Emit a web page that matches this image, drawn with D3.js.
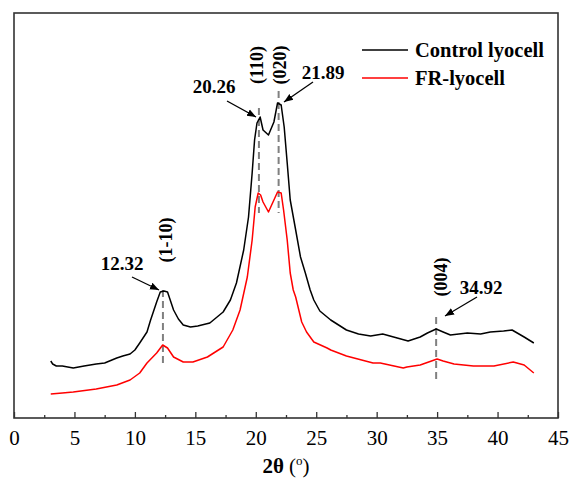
<!DOCTYPE html>
<html>
<head>
<meta charset="utf-8">
<script src="https://cdn.jsdelivr.net/npm/d3@7"></script>
<style>
  body { margin: 0; background: #fff; }
  text { font-family: "Liberation Serif", "Times New Roman", serif; }
</style>
</head>
<body>
<svg id="chart" width="572" height="483"></svg>
<script>
// 2theta positions (deg) and intensity (a.u.)
var ctrlTheta = [3.04, 3.2, 3.5, 4.0, 4.9, 5.8, 6.8, 7.5, 8.5, 9.0, 9.6, 10.0, 10.4, 11.0, 11.3, 11.8, 12.1, 12.4, 12.7, 13.2, 13.6, 14.0, 14.6, 15.2, 16.2, 17.3, 17.9, 18.4, 19.0, 19.4, 19.7, 19.9, 20.1, 20.36, 20.6, 21.05, 21.5, 21.8, 22.1, 22.35, 22.6, 22.85, 23.3, 23.7, 24.1, 24.5, 24.8, 25.3, 26.2, 27.5, 28.5, 29.5, 30.5, 31.7, 32.6, 33.6, 34.2, 34.92, 35.5, 36.1, 37.5, 38.6, 39.4, 40.5, 41.2, 42.2, 43.0];
var ctrlInt = [57, 54, 52, 52, 50, 52, 54, 55, 60, 62, 64, 68, 75, 86, 98, 116, 126, 127, 126, 108, 99, 93, 91, 92, 95, 106, 118, 135, 168, 201, 245, 278, 295, 301, 288, 283, 296, 315, 313, 291, 255, 218, 188, 161, 145, 128, 118, 107, 98, 88, 84, 82, 84, 80, 77, 81, 85, 89, 86, 83, 85, 84, 86, 87, 88, 81, 75];

var frTheta = [3.04, 4.0, 4.9, 6.8, 8.5, 9.6, 10.4, 11.0, 11.8, 12.3, 12.7, 13.2, 14.0, 14.8, 16.0, 17.3, 18.1, 18.7, 19.3, 19.7, 19.95, 20.2, 20.4, 20.6, 21.05, 21.5, 21.8, 22.1, 22.3, 22.6, 22.85, 23.1, 23.3, 23.8, 24.2, 24.8, 25.9, 26.2, 27.5, 29.7, 30.3, 32.2, 32.5, 33.6, 34.3, 35.0, 35.5, 36.4, 38.0, 39.7, 41.3, 42.2, 43.0];
var frInt = [24, 25, 26, 29, 33, 38, 45, 55, 65, 73, 70, 61, 56, 56, 61, 71, 88, 108, 141, 178, 211, 225, 223, 216, 206, 218, 226, 225, 208, 178, 145, 128, 121, 96, 86, 76, 70, 68, 62, 55, 55, 50, 51, 53, 56, 59, 57, 54, 52, 52, 56, 53, 45];

var seriesNames = ["Control lyocell", "FR-lyocell"];
var seriesColors = ["#000000", "#ff0000"];

// peak annotations
var peakPos = [12.32, 20.26, 21.89, 34.92];
var peakLabels = ["12.32", "20.26", "21.89", "34.92"];
var planeLabels = ["(1-10)", "(110)", "(020)", "(004)"];

var xTicks = [0, 5, 10, 15, 20, 25, 30, 35, 40, 45];
var xMinorTicks = [2.5, 7.5, 12.5, 17.5, 22.5, 27.5, 32.5, 37.5, 42.5];

var svg = d3.select("#chart");
var pLeft = 14, pRight = 558, pTop = 13, pBottom = 418;

var x = d3.scaleLinear().domain([0, 45]).range([pLeft, pRight]);
var y = d3.scaleLinear().domain([0, 405]).range([pBottom, pTop]);

// frame
svg.append("rect")
    .attr("x", pLeft).attr("y", pTop)
    .attr("width", pRight - pLeft).attr("height", pBottom - pTop)
    .attr("fill", "none").attr("stroke", "#333").attr("stroke-width", 1.6);

// x axis (ticks pointing inward)
var gx = svg.append("g").attr("transform", "translate(0," + pBottom + ")")
    .call(d3.axisBottom(x).tickValues(xTicks).tickSize(-6).tickPadding(12).tickFormat(d3.format("d")));
gx.select(".domain").remove();
gx.selectAll(".tick line").attr("stroke", "#333").attr("stroke-width", 1.3);
gx.selectAll(".tick text").attr("font-size", 21).attr("fill", "#000")
    .style("font-family", "'Liberation Serif', serif");

var gm = svg.append("g").attr("transform", "translate(0," + pBottom + ")")
    .call(d3.axisBottom(x).tickValues(xMinorTicks).tickSize(-3).tickFormat(""));
gm.select(".domain").remove();
gm.selectAll(".tick line").attr("stroke", "#333").attr("stroke-width", 1.3);

// axis title
var title = svg.append("text").attr("x", 286).attr("y", 473)
    .attr("text-anchor", "middle").attr("font-size", 21);
title.append("tspan").attr("font-weight", "bold").text("2θ");
title.append("tspan").text(" (");
title.append("tspan").attr("font-size", 13).attr("dy", -8).text("o");
title.append("tspan").attr("dy", 8).text(")");

// dashed peak markers
var dashTop = [290, 108, 91, 317];
var dashBottom = [363, 213, 213, 380];
svg.append("g").selectAll("line")
    .data(peakPos)
    .enter()
    .append("line")
    .attr("x1", function (d) { return x(d); })
    .attr("x2", function (d) { return x(d); })
    .attr("y1", function (d, i) { return dashTop[i]; })
    .attr("y2", function (d, i) { return dashBottom[i]; })
    .attr("stroke", "#808080")
    .attr("stroke-width", 2)
    .attr("stroke-dasharray", "7,4");

// curves
var line = d3.line()
    .x(function (d) { return x(d[0]); })
    .y(function (d) { return y(d[1]); });

var ctrl = d3.zip(ctrlTheta, ctrlInt);
var fr = d3.zip(frTheta, frInt);

svg.append("path").datum(fr)
    .attr("d", line).attr("fill", "none")
    .attr("stroke", seriesColors[1]).attr("stroke-width", 1.5).attr("stroke-linejoin", "round");
svg.append("path").datum(ctrl)
    .attr("d", line).attr("fill", "none")
    .attr("stroke", seriesColors[0]).attr("stroke-width", 1.5).attr("stroke-linejoin", "round");

// arrows
svg.append("defs").append("marker")
    .attr("id", "arr")
    .attr("viewBox", "0 0 10 10")
    .attr("refX", 10).attr("refY", 5)
    .attr("markerWidth", 9).attr("markerHeight", 9)
    .attr("markerUnits", "userSpaceOnUse")
    .attr("orient", "auto")
    .append("path").attr("d", "M0,1 L10,5 L0,9 Z").attr("fill", "#000");

var arrowFrom = [[132, 277], [227, 101], [313, 82], [477, 297]];
var arrowTo = [[159, 290], [256, 117], [284, 102], [445, 316]];
svg.append("g").selectAll("line")
    .data(arrowFrom)
    .enter()
    .append("line")
    .attr("x1", function (d) { return d[0]; })
    .attr("y1", function (d) { return d[1]; })
    .attr("x2", function (d, i) { return arrowTo[i][0]; })
    .attr("y2", function (d, i) { return arrowTo[i][1]; })
    .attr("stroke", "#000").attr("stroke-width", 1.3)
    .attr("marker-end", "url(#arr)");

// peak value labels
var labelPos = [[122, 270], [214, 93], [323, 79], [481, 294]];
svg.append("g").selectAll("text")
    .data(peakLabels)
    .enter()
    .append("text")
    .attr("x", function (d, i) { return labelPos[i][0]; })
    .attr("y", function (d, i) { return labelPos[i][1]; })
    .attr("text-anchor", "middle")
    .attr("font-size", 19).attr("font-weight", "bold")
    .text(function (d) { return d; });

// crystal plane labels (rotated)
var planeCenter = [[166, 240], [257, 65], [280, 65], [441, 277]];
svg.append("g").selectAll("text")
    .data(planeLabels)
    .enter()
    .append("text")
    .attr("transform", function (d, i) {
        return "translate(" + planeCenter[i][0] + "," + planeCenter[i][1] + ") rotate(-90)";
    })
    .attr("text-anchor", "middle")
    .attr("dy", "0.35em")
    .attr("font-size", 18).attr("font-weight", "bold")
    .text(function (d) { return d; });

// legend
var lg = svg.append("g").selectAll("g")
    .data(seriesNames)
    .enter()
    .append("g")
    .attr("transform", function (d, i) { return "translate(362," + (50 + i * 28) + ")"; });
lg.append("line").attr("x1", 0).attr("x2", 46)
    .attr("stroke", function (d, i) { return seriesColors[i]; })
    .attr("stroke-width", 1.5);
lg.append("text").attr("x", 53).attr("y", 7)
    .attr("font-size", 20.5).attr("font-weight", "bold")
    .text(function (d) { return d; });
</script>
</body>
</html>
